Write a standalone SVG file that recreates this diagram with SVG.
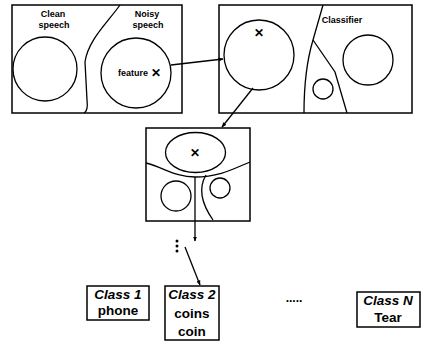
<svg xmlns="http://www.w3.org/2000/svg" width="426" height="342" viewBox="0 0 426 342">
<defs>
<marker id="ah" viewBox="0 0 10 10" refX="9" refY="5" markerWidth="5" markerHeight="5" orient="auto-start-reverse" markerUnits="userSpaceOnUse">
<path d="M0,1 L10,5 L0,9 z" fill="#000"/>
</marker>
</defs>
<style>
.box{fill:#fff;stroke:#000;stroke-width:1.5}
.ln{fill:none;stroke:#000;stroke-width:1.3}
.sm{font-family:"Liberation Sans",Arial,sans-serif;font-weight:bold;font-size:9px;fill:#000;text-anchor:middle}
.cl{font-family:"Liberation Sans",Arial,sans-serif;font-weight:bold;font-size:13.5px;fill:#000;text-anchor:middle}
.it{font-style:italic}
.x{font-family:"Liberation Sans",Arial,sans-serif;font-weight:bold;font-size:12px;fill:#000;text-anchor:middle}
</style>
<rect width="426" height="342" fill="#fff"/>
<g id="speech">
<rect class="box" x="12" y="5" width="170" height="108"/>
<text class="sm" x="53" y="17">Clean</text>
<text class="sm" x="54" y="28">speech</text>
<text class="sm" x="147" y="17">Noisy</text>
<text class="sm" x="148" y="28">speech</text>
<circle class="ln" cx="45" cy="69" r="32"/>
<circle class="ln" cx="136" cy="73" r="35"/>
<path class="ln" d="M120,5 C108,22 88,40 85,62 L87,100 C88,108 86,112 84,113"/>
<text class="sm" x="133" y="76">feature</text>
<text class="x" x="156" y="77">✕</text>
</g>
<g id="classifier">
<rect class="box" x="219" y="5" width="193" height="108"/>
<circle class="ln" cx="259" cy="55" r="35"/>
<text class="x" x="259" y="37">✕</text>
<text class="sm" x="342" y="23">Classifier</text>
<path class="ln" d="M323,5 L313,40 C307,60 304,80 304,113"/>
<path class="ln" d="M313,40 L335,72 L347,113"/>
<circle class="ln" cx="323" cy="89" r="10"/>
<circle class="ln" cx="368" cy="60" r="25"/>
</g>
<g id="subclass">
<rect class="box" x="146" y="128" width="104" height="93"/>
<ellipse class="ln" cx="195.5" cy="152.5" rx="30" ry="20"/>
<text class="x" x="195" y="157">✕</text>
<path class="ln" d="M146,163 C165,168 175,177 195,177 C220,177 235,168 250,162"/>
<circle class="ln" cx="176" cy="196" r="15"/>
<circle class="ln" cx="220" cy="188" r="10"/>
<path class="ln" d="M206,175 C200,185 199,200 213,220"/>
</g>
<g id="class1">
<rect class="box" x="87" y="286" width="62" height="34"/>
<text class="cl it" x="118" y="299">Class 1</text>
<text class="cl" x="118" y="315">phone</text>
</g>
<g id="class2">
<rect class="box" x="165" y="286" width="54" height="54"/>
<text class="cl it" x="192" y="299">Class 2</text>
<text class="cl" x="192" y="318">coins</text>
<text class="cl" x="192" y="336">coin</text>
</g>
<g id="ellipsis">
<text class="sm" x="294" y="302" style="font-size:12px">.....</text>
<circle cx="177" cy="241" r="1.5" fill="#000"/>
<circle cx="177" cy="246" r="1.5" fill="#000"/>
<circle cx="177" cy="251" r="1.5" fill="#000"/>
</g>
<g id="classN">
<rect class="box" x="357" y="292" width="63" height="35"/>
<text class="cl it" x="388" y="305">Class N</text>
<text class="cl" x="388" y="322">Tear</text>
</g>
<g id="connectors">
<path class="ln" d="M171,65 L223,59" marker-end="url(#ah)"/>
<path class="ln" d="M253,88 L222,127" marker-end="url(#ah)"/>
<path class="ln" d="M195,177 L195,241" marker-end="url(#ah)"/>
<path class="ln" d="M185,247 L200,285" marker-end="url(#ah)"/>
</g>
</svg>
